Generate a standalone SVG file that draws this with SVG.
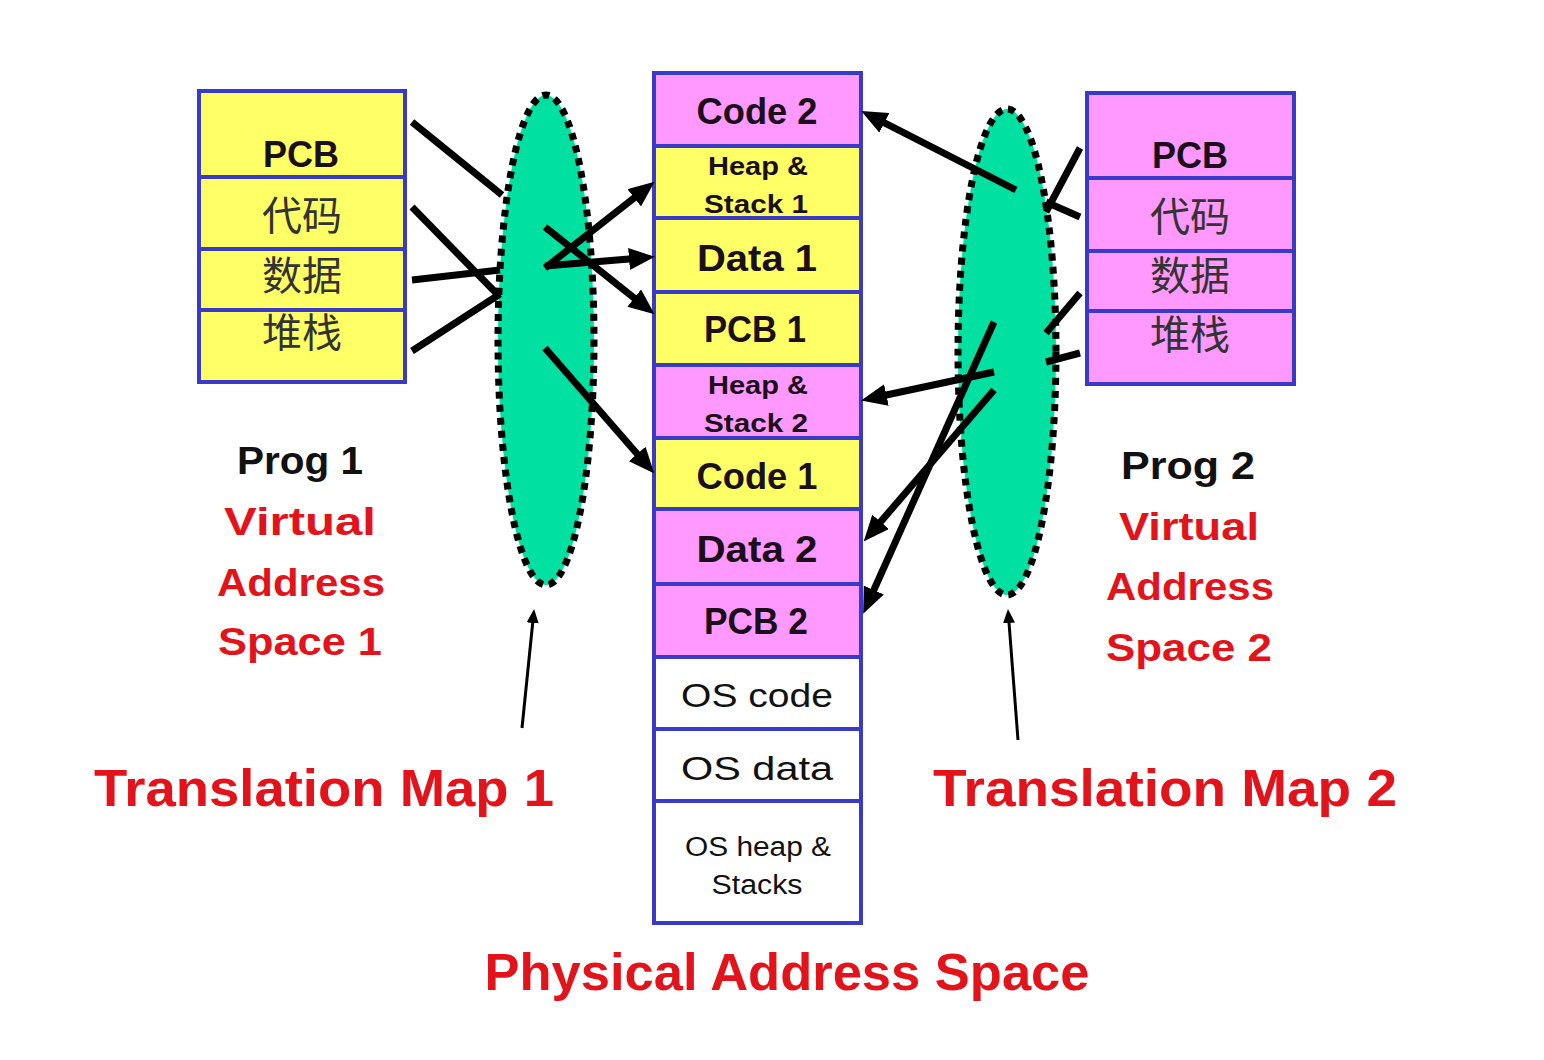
<svg xmlns="http://www.w3.org/2000/svg" width="1544" height="1060" viewBox="0 0 1544 1060">
<style>
.cell{stroke:#3a3ac8;stroke-width:4}
.y{fill:#ffff66}
.p{fill:#ff99ff}
.w{fill:#ffffff}
.lbl{font-family:"Liberation Sans",Arial,sans-serif;font-weight:bold;fill:#1a0f1a;text-anchor:middle}
.big{font-size:36px}
.sm{font-size:26px}
.os{font-size:34px;font-weight:normal;fill:#111}
.oss{font-size:27px;font-weight:normal;fill:#111}
.cjk{font-family:"Noto Sans CJK SC",sans-serif;font-size:40px;fill:#333;text-anchor:middle}
.red{font-family:"Liberation Sans",Arial,sans-serif;font-weight:bold;fill:#e3131b;text-anchor:middle}
.blk{font-family:"Liberation Sans",Arial,sans-serif;font-weight:bold;fill:#111;text-anchor:middle}
.map{fill:#00e0a0;stroke:#000;stroke-width:7;stroke-dasharray:7 6}
.thick{stroke:#000;stroke-width:7;fill:none}
.arr{stroke:#000;stroke-width:7;fill:none;marker-end:url(#ah)}
.thin{stroke:#000;stroke-width:3;fill:none;marker-end:url(#ahs)}
</style>
<defs>
<marker id="ah" markerUnits="userSpaceOnUse" markerWidth="26" markerHeight="22" refX="12" refY="11" orient="auto" viewBox="0 0 26 22">
<path d="M0,0 L26,11 L0,22 z" fill="#000"/>
</marker>
<marker id="ahs" markerUnits="userSpaceOnUse" markerWidth="14" markerHeight="12" refX="7" refY="6" orient="auto" viewBox="0 0 14 12">
<path d="M0,0 L14,6 L0,12 z" fill="#000"/>
</marker>
</defs>
<rect width="1544" height="1060" fill="#ffffff"/>

<g id="vas1">
<rect class="cell y" x="199" y="91" width="206" height="86"/>
<rect class="cell y" x="199" y="177" width="206" height="72"/>
<rect class="cell y" x="199" y="249" width="206" height="61"/>
<rect class="cell y" x="199" y="310" width="206" height="72"/>
<text class="lbl big" x="301" y="167" textLength="76" lengthAdjust="spacingAndGlyphs">PCB</text>
<text class="cjk" x="302" y="230">代码</text>
<text class="cjk" x="302" y="290">数据</text>
<text class="cjk" x="302" y="347">堆栈</text>
</g>

<g id="vas2">
<rect class="cell p" x="1087" y="93" width="207" height="85"/>
<rect class="cell p" x="1087" y="178" width="207" height="73"/>
<rect class="cell p" x="1087" y="251" width="207" height="60"/>
<rect class="cell p" x="1087" y="311" width="207" height="73"/>
<text class="lbl big" x="1190" y="168" textLength="76" lengthAdjust="spacingAndGlyphs">PCB</text>
<text class="cjk" x="1190" y="231">代码</text>
<text class="cjk" x="1190" y="290">数据</text>
<text class="cjk" x="1190" y="349">堆栈</text>
</g>

<g id="physical">
<rect class="cell p" x="654" y="73" width="207" height="73"/>
<rect class="cell y" x="654" y="146" width="207" height="72"/>
<rect class="cell y" x="654" y="218" width="207" height="74"/>
<rect class="cell y" x="654" y="292" width="207" height="73"/>
<rect class="cell p" x="654" y="365" width="207" height="73"/>
<rect class="cell y" x="654" y="438" width="207" height="71"/>
<rect class="cell p" x="654" y="509" width="207" height="75"/>
<rect class="cell p" x="654" y="584" width="207" height="73"/>
<rect class="cell w" x="654" y="657" width="207" height="72"/>
<rect class="cell w" x="654" y="729" width="207" height="72"/>
<rect class="cell w" x="654" y="801" width="207" height="122"/>
<text class="lbl big" x="757" y="124" textLength="121" lengthAdjust="spacingAndGlyphs">Code 2</text>
<text class="lbl sm" x="758" y="175" textLength="100" lengthAdjust="spacingAndGlyphs">Heap &amp;</text>
<text class="lbl sm" x="756" y="213" textLength="104" lengthAdjust="spacingAndGlyphs">Stack 1</text>
<text class="lbl big" x="757" y="271" textLength="120" lengthAdjust="spacingAndGlyphs">Data 1</text>
<text class="lbl big" x="755" y="342" textLength="102" lengthAdjust="spacingAndGlyphs">PCB 1</text>
<text class="lbl sm" x="758" y="394" textLength="100" lengthAdjust="spacingAndGlyphs">Heap &amp;</text>
<text class="lbl sm" x="756" y="432" textLength="104" lengthAdjust="spacingAndGlyphs">Stack 2</text>
<text class="lbl big" x="757" y="489" textLength="121" lengthAdjust="spacingAndGlyphs">Code 1</text>
<text class="lbl big" x="757" y="562" textLength="121" lengthAdjust="spacingAndGlyphs">Data 2</text>
<text class="lbl big" x="756" y="634" textLength="104" lengthAdjust="spacingAndGlyphs">PCB 2</text>
<text class="lbl os" x="757" y="707" textLength="152" lengthAdjust="spacingAndGlyphs">OS code</text>
<text class="lbl os" x="757" y="780" textLength="152" lengthAdjust="spacingAndGlyphs">OS data</text>
<text class="lbl oss" x="758" y="856" textLength="146" lengthAdjust="spacingAndGlyphs">OS heap &amp;</text>
<text class="lbl oss" x="757" y="894" textLength="91" lengthAdjust="spacingAndGlyphs">Stacks</text>
</g>

<g id="map1">
<ellipse class="map" cx="546" cy="340" rx="48" ry="245"/>
</g>
<g id="map2">
<ellipse class="map" cx="1007" cy="352" rx="49" ry="243"/>
</g>

<g id="connectors">
<line class="thick" x1="412" y1="122" x2="502" y2="195"/>
<line class="thick" x1="412" y1="207" x2="499" y2="296"/>
<line class="thick" x1="412" y1="280" x2="500" y2="270"/>
<line class="thick" x1="412" y1="351" x2="500" y2="294"/>
<line class="arr" x1="545" y1="268" x2="643.6" y2="190.4"/>
<line class="arr" x1="545" y1="266" x2="641" y2="258"/>
<line class="arr" x1="545" y1="227" x2="643.6" y2="305.5"/>
<line class="arr" x1="545" y1="348" x2="645.1" y2="463"/>
<line class="thick" x1="1080" y1="148" x2="1046" y2="212"/>
<line class="thick" x1="1080" y1="217" x2="1046" y2="202"/>
<line class="thick" x1="1080" y1="293" x2="1046" y2="333"/>
<line class="thick" x1="1080" y1="353" x2="1046" y2="362"/>
<line class="arr" x1="1016" y1="190" x2="873.7" y2="117.4"/>
<line class="arr" x1="994" y1="372" x2="874.7" y2="397.5"/>
<line class="arr" x1="994" y1="390" x2="872.8" y2="530.9"/>
<line class="arr" x1="994" y1="322" x2="868.9" y2="601"/>
<line class="thin" x1="522" y1="728" x2="533.4" y2="616"/>
<line class="thin" x1="1018" y1="740" x2="1008.5" y2="616"/>
</g>

<g id="labels">
<text class="blk" x="300" y="474" font-size="38" textLength="126" lengthAdjust="spacingAndGlyphs">Prog 1</text>
<text class="red" x="300" y="535" font-size="38" textLength="152" lengthAdjust="spacingAndGlyphs">Virtual</text>
<text class="red" x="301" y="596" font-size="38" textLength="168" lengthAdjust="spacingAndGlyphs">Address</text>
<text class="red" x="300" y="655" font-size="38" textLength="164" lengthAdjust="spacingAndGlyphs">Space 1</text>
<text class="blk" x="1188" y="479" font-size="38" textLength="134" lengthAdjust="spacingAndGlyphs">Prog 2</text>
<text class="red" x="1189" y="540" font-size="38" textLength="140" lengthAdjust="spacingAndGlyphs">Virtual</text>
<text class="red" x="1190" y="600" font-size="38" textLength="168" lengthAdjust="spacingAndGlyphs">Address</text>
<text class="red" x="1189" y="661" font-size="38" textLength="166" lengthAdjust="spacingAndGlyphs">Space 2</text>
<text class="red" x="324" y="806" font-size="52" textLength="460" lengthAdjust="spacingAndGlyphs">Translation Map 1</text>
<text class="red" x="1165" y="806" font-size="52" textLength="464" lengthAdjust="spacingAndGlyphs">Translation Map 2</text>
<text class="red" x="787" y="990" font-size="52" textLength="605" lengthAdjust="spacingAndGlyphs">Physical Address Space</text>
</g>
</svg>
